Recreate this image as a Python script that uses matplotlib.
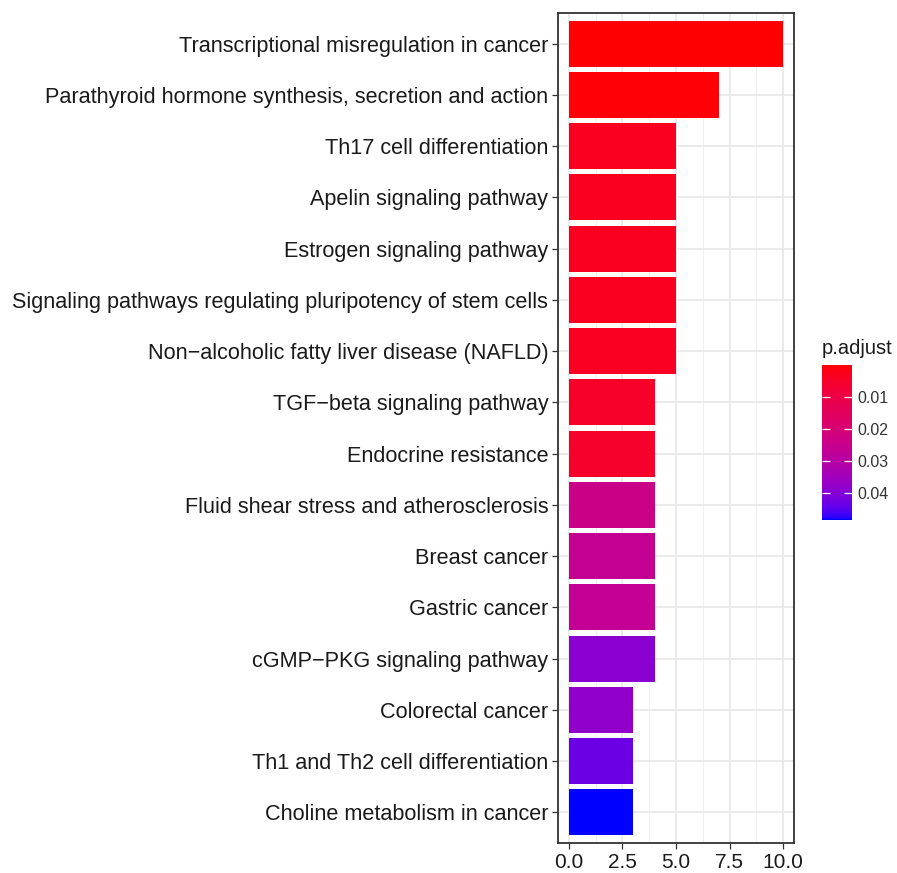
import numpy as np
import matplotlib.pyplot as plt
from matplotlib.colors import ListedColormap, Normalize
from matplotlib.cm import ScalarMappable

plt.rcParams['font.family'] = ['Liberation Sans', 'DejaVu Sans']

# KEGG enrichment results, top term first
terms = ['Transcriptional misregulation in cancer',
         'Parathyroid hormone synthesis, secretion and action',
         'Th17 cell differentiation',
         'Apelin signaling pathway',
         'Estrogen signaling pathway',
         'Signaling pathways regulating pluripotency of stem cells',
         'Non\u2212alcoholic fatty liver disease (NAFLD)',
         'TGF\u2212beta signaling pathway',
         'Endocrine resistance',
         'Fluid shear stress and atherosclerosis',
         'Breast cancer',
         'Gastric cancer',
         'cGMP\u2212PKG signaling pathway',
         'Colorectal cancer',
         'Th1 and Th2 cell differentiation',
         'Choline metabolism in cancer']
counts = [10, 7, 5, 5, 5, 5, 5, 4, 4, 4, 4, 4, 4, 3, 3, 3]
p_adjust = [0.0001, 0.0006, 0.0035, 0.0035, 0.0036, 0.0036, 0.0038, 0.0050,
            0.0052, 0.0240, 0.0262, 0.0265, 0.0390, 0.0380, 0.0430, 0.0484]
cbar_ticks = [0.01, 0.02, 0.03, 0.04]
x_ticks = [0, 2.5, 5, 7.5, 10]


# red -> blue ramp interpolated in CIELAB (like scales::seq_gradient)
WHITE = np.array([0.95047, 1.0, 1.08883])
M = np.array([[0.4124, 0.3576, 0.1805],
              [0.2126, 0.7152, 0.0722],
              [0.0193, 0.1192, 0.9505]])


def rgb_to_lab(rgb):
    c = np.where(rgb <= 0.04045, rgb / 12.92, ((rgb + 0.055) / 1.055) ** 2.4)
    t = (M @ c) / WHITE
    f = np.where(t > 0.008856, np.cbrt(t), 7.787 * t + 16 / 116)
    return np.array([116 * f[1] - 16, 500 * (f[0] - f[1]), 200 * (f[1] - f[2])])


def lab_to_rgb(lab):
    fy = (lab[0] + 16) / 116
    fx = fy + lab[1] / 500
    fz = fy - lab[2] / 200
    f = np.array([fx, fy, fz])
    t = np.where(f ** 3 > 0.008856, f ** 3, (f - 16 / 116) / 7.787) * WHITE
    c = np.linalg.solve(M, t)
    c = np.clip(c, 0, 1)
    rgb = np.where(c <= 0.0031308, 12.92 * c, 1.055 * c ** (1 / 2.4) - 0.055)
    return np.clip(rgb, 0, 1)


lab_lo = rgb_to_lab(np.array([1.0, 0.0, 0.0]))
lab_hi = rgb_to_lab(np.array([0.0, 0.0, 1.0]))
ramp = [lab_to_rgb(lab_lo + (lab_hi - lab_lo) * s) for s in np.linspace(0, 1, 256)]
cmap = ListedColormap(ramp)
norm = Normalize(vmin=min(p_adjust), vmax=max(p_adjust))

fig = plt.figure(figsize=(8.97, 8.73), dpi=100)
ax = fig.add_axes([558 / 897, 30 / 873, 236 / 897, 830 / 873])

n = len(terms)
ypos = np.arange(n)
ax.barh(ypos, counts, height=0.9, color=cmap(norm(np.array(p_adjust))),
        edgecolor='none', zorder=3)
ax.set_ylim(n - 1 + 0.6, -0.6)
ax.set_xlim(-0.5, 10.5)

ax.set_yticks(ypos)
ax.set_yticklabels(terms)
ax.set_xticks(x_ticks)
ax.set_xticklabels(['%.1f' % v for v in x_ticks])
ax.set_xticks([1.25, 3.75, 6.25, 8.75], minor=True)

ax.grid(True, which='major', color='#E8E8E8', lw=1.2, zorder=0)
ax.grid(True, which='minor', axis='x', color='#F0F0F0', lw=0.7, zorder=0)
ax.set_axisbelow(True)
ax.tick_params(axis='both', which='major', length=4.5, width=0.9, color='#333333',
               labelsize=15.6, labelcolor='#1A1A1A', pad=2.5)
ax.tick_params(axis='x', which='major', labelsize=15, pad=3)
ax.tick_params(axis='x', which='minor', length=0)
for s in ax.spines.values():
    s.set_color('#333333')
    s.set_linewidth(1.3)

# colour bar legend
cax = fig.add_axes([822 / 897, 353 / 873, 30 / 897, 155 / 873])
sm = ScalarMappable(norm=norm, cmap=cmap)
cb = fig.colorbar(sm, cax=cax, ticks=cbar_ticks)
cb.outline.set_visible(False)
cax.invert_yaxis()
cax.yaxis.set_ticks_position('both')
cax.tick_params(axis='y', direction='in', length=6, width=0.9, color='white',
                labelsize=11.5, labelcolor='#333333', pad=4, right=True, left=True,
                labelleft=False, labelright=True)
cax.set_yticklabels(['%.2f' % v for v in cbar_ticks])
fig.text(822 / 897, 1 - 348 / 873, 'p.adjust', fontsize=14.5, color='#1A1A1A',
         ha='left', va='center')

fig.savefig('out.png', dpi=100)
